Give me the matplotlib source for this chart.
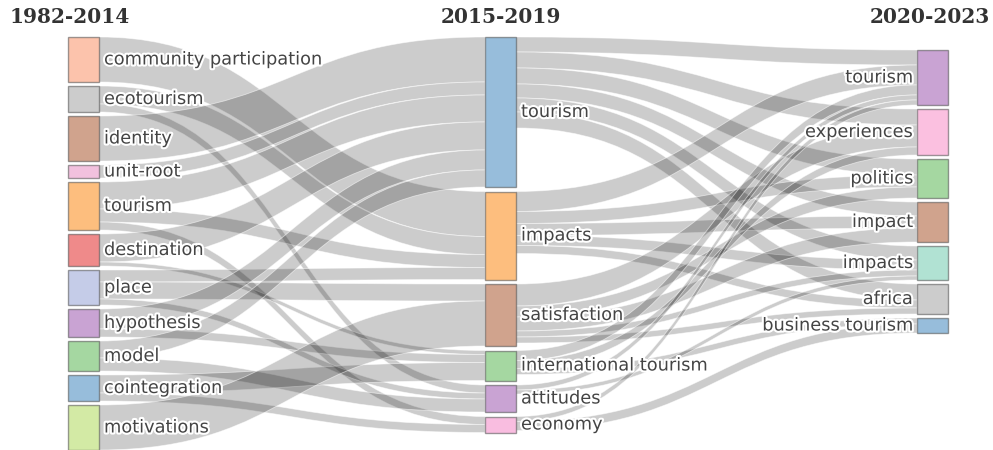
import matplotlib
matplotlib.use("Agg")
import matplotlib.pyplot as plt
from matplotlib.path import Path
from matplotlib.patches import PathPatch, Rectangle
import matplotlib.patheffects as pe

# ---------------- data ----------------
periods = ["1982-2014", "2015-2019", "2020-2023"]

left_labels = ["community participation", "ecotourism", "identity", "unit-root", "tourism",
               "destination", "place", "hypothesis", "model", "cointegration", "motivations"]
mid_labels = ["tourism", "impacts", "satisfaction", "international tourism", "attitudes", "economy"]
right_labels = ["tourism", "experiences", "politics", "impact", "impacts", "africa", "business tourism"]

left_colors = ["#fcc3ac", "#cccccc", "#d0a38d", "#f2c1de", "#fdbe7e", "#ef8a8a",
               "#c5cce8", "#c9a3d3", "#a5d7a1", "#97bddb", "#d3eaa5"]
mid_colors = ["#97bddb", "#fdbe7e", "#d0a38d", "#a5d7a1", "#c9a3d3", "#f9bde0"]
right_colors = ["#c9a3d3", "#fbc0e0", "#a5d7a1", "#d0a38d", "#b1e2d3", "#cccccc", "#97bddb"]

# flows 1982-2014 -> 2015-2019
s1_src = ["community participation", "ecotourism", "ecotourism", "identity", "unit-root",
          "tourism", "tourism", "tourism", "destination", "destination",
          "place", "place", "place", "hypothesis", "hypothesis",
          "model", "model", "cointegration", "cointegration", "motivations"]
s1_tgt = ["impacts", "impacts", "attitudes", "tourism", "tourism",
          "tourism", "impacts", "economy", "tourism", "international tourism",
          "impacts", "satisfaction", "attitudes", "tourism", "international tourism",
          "tourism", "attitudes", "international tourism", "economy", "satisfaction"]
s1_val = [45, 18, 8, 45, 13,
          27, 13, 8, 28, 4,
          12, 17, 6, 20, 8,
          17, 13, 18, 8, 45]

# flows 2015-2019 -> 2020-2023
s2_src = ["tourism", "tourism", "tourism", "tourism", "tourism", "tourism",
          "impacts", "impacts", "impacts", "impacts", "impacts",
          "satisfaction", "satisfaction", "satisfaction", "satisfaction", "satisfaction",
          "international tourism", "international tourism", "international tourism",
          "attitudes", "attitudes", "economy", "economy"]
s2_tgt = ["tourism", "experiences", "politics", "impact", "impacts", "africa",
          "tourism", "politics", "impact", "impacts", "africa",
          "experiences", "politics", "impact", "impacts", "africa",
          "tourism", "experiences", "business tourism",
          "tourism", "impacts", "tourism", "business tourism"]
s2_val = [15, 16, 16, 14, 14, 16,
          20, 12, 12, 10, 8,
          22, 11, 14, 6, 6,
          10, 8, 6,
          5, 4, 5, 9]

# ---------------- layout ----------------
W, H = 993, 450
fig = plt.figure(figsize=(W / 100, H / 100), dpi=100)
ax = fig.add_axes([0, 0, 1, 1])
ax.set_xlim(0, W)
ax.set_ylim(H, 0)
ax.axis("off")

col_x = [68, 485, 917]
node_w = 31
col_top = [37, 37, 50]
col_pad = [4, 4.5, 4]
scale = 1.0

columns = [left_labels, mid_labels, right_labels]
colors = [left_colors, mid_colors, right_colors]
stages = [(s1_src, s1_tgt, s1_val), (s2_src, s2_tgt, s2_val)]

# node sizes
inflow = [dict.fromkeys(c, 0) for c in columns]
outflow = [dict.fromkeys(c, 0) for c in columns]
for k, (src, tgt, val) in enumerate(stages):
    for s, t, v in zip(src, tgt, val):
        outflow[k][s] += v
        inflow[k + 1][t] += v

node_y = []
node_h = []
for c, labels in enumerate(columns):
    ys, hs = {}, {}
    cur = col_top[c]
    for lab in labels:
        h = max(inflow[c][lab], outflow[c][lab]) * scale
        ys[lab] = cur
        hs[lab] = h
        cur += h + col_pad[c]
    node_y.append(ys)
    node_h.append(hs)

# links
for k, (src, tgt, val) in enumerate(stages):
    links = list(zip(src, tgt, val))
    src_pos = {}
    for s in columns[k]:
        mine = [l for l in links if l[0] == s]
        mine.sort(key=lambda l: node_y[k + 1][l[1]])
        off = node_y[k][s]
        for l in mine:
            src_pos[l] = off
            off += l[2] * scale
    tgt_pos = {}
    for t in columns[k + 1]:
        mine = [l for l in links if l[1] == t]
        mine.sort(key=lambda l: node_y[k][l[0]])
        off = node_y[k + 1][t]
        for l in mine:
            tgt_pos[l] = off
            off += l[2] * scale
    x0 = col_x[k] + node_w
    x1 = col_x[k + 1]
    xm = (x0 + x1) / 2
    for l in links:
        w = l[2] * scale
        ys0 = src_pos[l]
        ys1 = ys0 + w
        yt0 = tgt_pos[l]
        yt1 = yt0 + w
        verts = [(x0, ys0), (xm, ys0), (xm, yt0), (x1, yt0),
                 (x1, yt1), (xm, yt1), (xm, ys1), (x0, ys1), (x0, ys0)]
        codes = [Path.MOVETO, Path.CURVE4, Path.CURVE4, Path.CURVE4,
                 Path.LINETO, Path.CURVE4, Path.CURVE4, Path.CURVE4, Path.CLOSEPOLY]
        ax.add_patch(PathPatch(Path(verts, codes), facecolor=(0, 0, 0, 0.2),
                               edgecolor=(1, 1, 1, 0.55), lw=0.6, zorder=1))

# nodes and labels
shadow = [pe.withStroke(linewidth=3, foreground="white")]
for c, labels in enumerate(columns):
    for i, lab in enumerate(labels):
        y = node_y[c][lab]
        h = node_h[c][lab]
        ax.add_patch(Rectangle((col_x[c], y), node_w, h, facecolor=colors[c][i],
                               edgecolor=(0.3, 0.3, 0.3, 0.55), lw=1.0, zorder=3))
        if c < 2:
            ax.text(col_x[c] + node_w + 5, y + h / 2, lab, ha="left", va="center",
                    fontsize=12.8, color="#444444", family="DejaVu Sans",
                    path_effects=shadow, zorder=4)
        else:
            ax.text(col_x[c] - 4, y + h / 2, lab, ha="right", va="center",
                    fontsize=12.8, color="#444444", family="DejaVu Sans",
                    path_effects=shadow, zorder=4)

title_kw = dict(fontsize=14.5, fontweight="bold", family="DejaVu Serif", color="#333333",
                va="center")
ax.text(10, 17, periods[0], ha="left", **title_kw)
ax.text(col_x[1] + node_w / 2, 17, periods[1], ha="center", **title_kw)
ax.text(990, 17, periods[2], ha="right", **title_kw)

fig.savefig("out.png", dpi=100)
